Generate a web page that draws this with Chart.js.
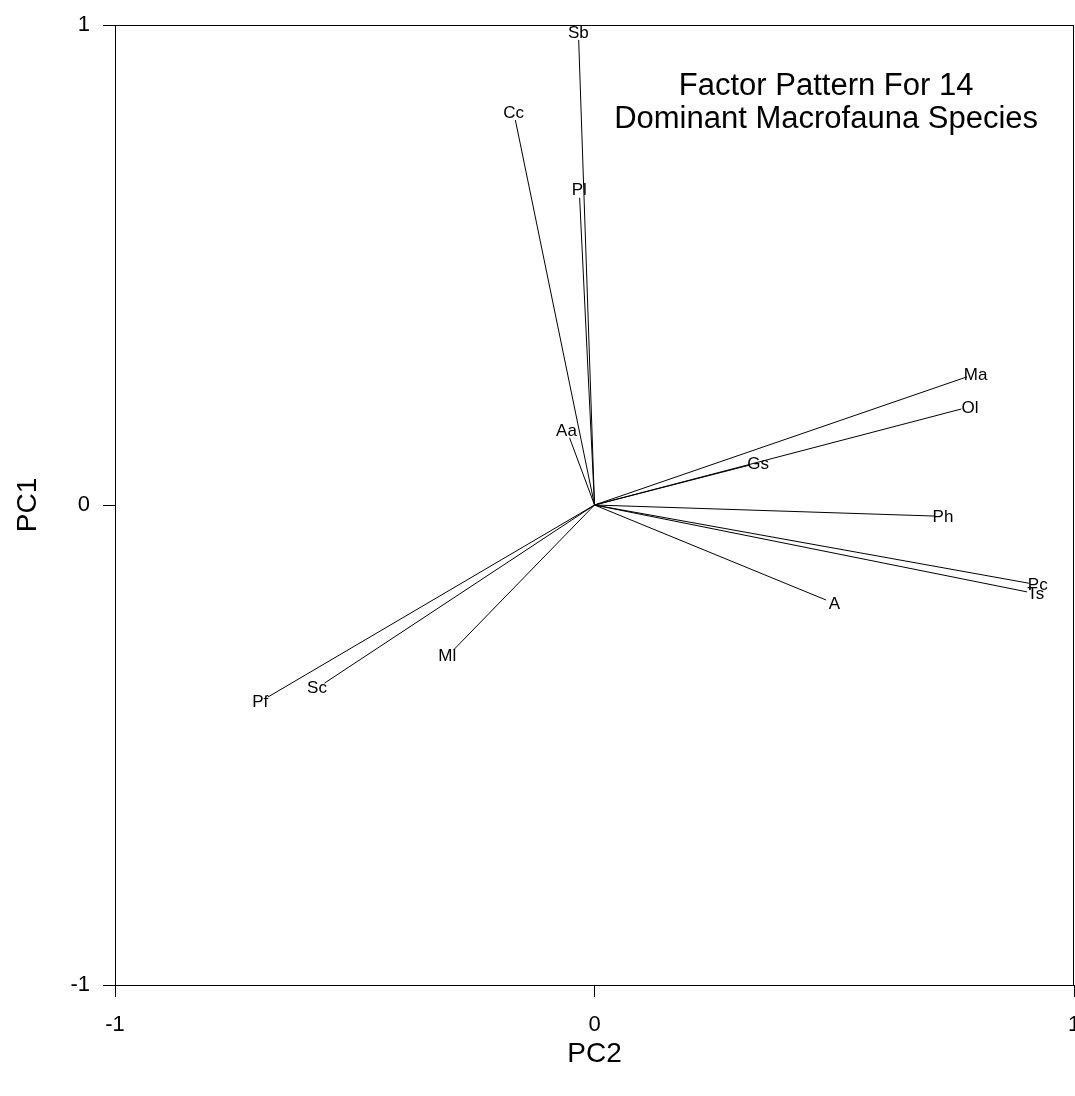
<!DOCTYPE html>
<html>
<head>
<meta charset="utf-8">
<title>Factor Pattern</title>
<script src="https://cdn.jsdelivr.net/npm/chart.js@4/dist/chart.umd.min.js"></script>
<style>
    body { margin: 0; background: #fff; }
    #wrap { width: 1075px; height: 1096px; }
</style>
</head>
<body>
<div id="wrap"><canvas id="myChart" width="1075" height="1096"></canvas></div>
<script>
// loadings for each species: x = PC2, y = PC1
const species = ['Sb', 'Cc', 'Pl', 'Aa', 'Gs', 'Ma', 'Ol', 'Ph', 'Pc', 'Ts', 'A', 'Ml', 'Sc', 'Pf'];
const pc2 = [-0.033, -0.165, -0.031, -0.052, 0.323, 0.777, 0.765, 0.708, 0.906, 0.902, 0.483, -0.294, -0.563, -0.681];
const pc1 = [0.969, 0.802, 0.640, 0.140, 0.083, 0.267, 0.200, -0.023, -0.163, -0.181, -0.198, -0.302, -0.371, -0.400];
const axisTicks = [-1, 0, 1];
const titleLines = ['Factor Pattern For 14', 'Dominant Macrofauna Species'];

const FONT = 'Liberation Sans, Arial, sans-serif';

const datasets = species.map((name, i) => ({
    label: name,
    data: [{ x: 0, y: 0 }, { x: pc2[i], y: pc1[i] }],
    showLine: true,
    borderColor: '#000',
    borderWidth: 1,
    pointRadius: 0,
    pointHoverRadius: 0
}));

// species names just past the end of each vector, plus the frame and title
const labelsPlugin = {
    id: 'vectorLabels',
    afterDatasetsDraw(chart) {
        const ctx = chart.ctx;
        const xs = chart.scales.x;
        const ys = chart.scales.y;
        const ox = xs.getPixelForValue(0);
        const oy = ys.getPixelForValue(0);
        ctx.save();
        ctx.fillStyle = '#000';
        ctx.font = '17px ' + FONT;
        ctx.textAlign = 'center';
        ctx.textBaseline = 'middle';
        species.forEach((name, i) => {
            const px = xs.getPixelForValue(pc2[i]);
            const py = ys.getPixelForValue(pc1[i]);
            const len = Math.hypot(px - ox, py - oy);
            const dx = (px - ox) / len;
            const dy = (py - oy) / len;
            ctx.fillText(name, px + dx * 9, py + dy * 8 + 1);
        });

        ctx.font = '31px ' + FONT;
        ctx.textBaseline = 'alphabetic';
        const tx = xs.getPixelForValue(0.483);
        const ty = ys.getPixelForValue(0.854);
        titleLines.forEach((line, k) => ctx.fillText(line, tx, ty + k * 33));

        const a = chart.chartArea;
        ctx.strokeStyle = '#000';
        ctx.lineWidth = 1;
        ctx.strokeRect(a.left + 0.5, a.top + 0.5, a.right - a.left - 1, a.bottom - a.top);
        ctx.restore();
    }
};

const ctx = document.getElementById('myChart').getContext('2d');
const chart = new Chart(ctx, {
    type: 'scatter',
    data: { datasets: datasets },
    plugins: [labelsPlugin],
    options: {
        responsive: false,
        animation: false,
        layout: { padding: { top: 25, right: 1, left: 0, bottom: 0 } },
        plugins: {
            legend: { display: false },
            tooltip: { enabled: false }
        },
        scales: {
            x: {
                type: 'linear',
                min: -1,
                max: 1,
                afterFit(scale) {
                    scale.height = 111;
                    scale.paddingLeft = 0;
                    scale.paddingRight = 0;
                },
                afterBuildTicks(scale) { scale.ticks = axisTicks.map(v => ({ value: v })); },
                border: { display: true, color: '#000', width: 1 },
                grid: { drawOnChartArea: false, drawTicks: true, tickLength: 12, color: '#000' },
                ticks: { color: '#000', padding: 15, font: { family: FONT, size: 22 }, maxRotation: 0 },
                title: {
                    display: true,
                    text: 'PC2',
                    color: '#000',
                    font: { family: FONT, size: 28, lineHeight: 1.2 },
                    padding: { top: 0, bottom: 25 }
                }
            },
            y: {
                type: 'linear',
                min: -1,
                max: 1,
                afterFit(scale) {
                    scale.width = 115;
                    scale.paddingTop = 0;
                    scale.paddingBottom = 0;
                },
                afterBuildTicks(scale) { scale.ticks = axisTicks.map(v => ({ value: v })); },
                border: { display: true, color: '#000', width: 1 },
                grid: { drawOnChartArea: false, drawTicks: true, tickLength: 12, color: '#000' },
                ticks: { color: '#000', padding: 13, font: { family: FONT, size: 22 } },
                title: {
                    display: true,
                    text: 'PC1',
                    color: '#000',
                    font: { family: FONT, size: 28, lineHeight: 1.2 },
                    padding: { top: 11, bottom: 0 }
                }
            }
        }
    }
});
</script>
</body>
</html>
